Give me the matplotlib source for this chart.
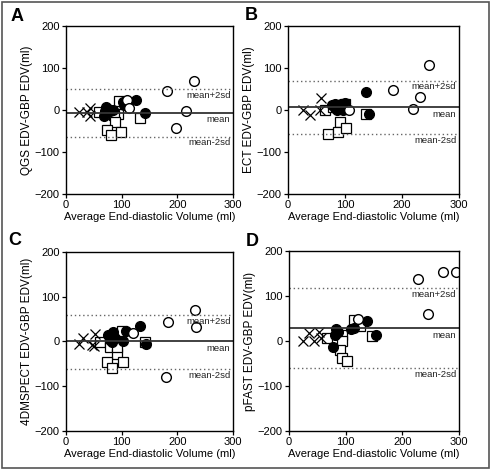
import numpy as np
import matplotlib
matplotlib.use("Agg")
import matplotlib.pyplot as plt
from matplotlib.patches import Rectangle

plt.rcParams['font.family'] = ['Liberation Sans', 'DejaVu Sans']

# ---- data: (average EDV, difference) per group ----
# panel A : QGS
a_open_x = [182, 230, 215, 197, 110, 114]
a_open_y = [45, 69, -2, -43, 25, 6]
a_fill_x = [72, 70, 76, 79, 84, 68, 102, 105, 126, 142]
a_fill_y = [8, -2, 2, -3, 0, -13, 20, 12, 25, -6]
a_sq_x = [60, 96, 93, 87, 88, 74, 81, 99, 132]
a_sq_y = [-4, 22, -8, -12, -28, -48, -60, -52, -18]
a_x_x = [23, 43, 43, 37]
a_x_y = [-5, 6, -13, -5]
a_lines = [-6, 50, -63]

# panel B : ECT
b_open_x = [184, 248, 232, 220, 108]
b_open_y = [48, 106, 31, 2, 0]
b_fill_x = [78, 82, 88, 94, 100, 82, 92, 98, 86, 96, 137, 143]
b_fill_y = [12, 14, 12, 15, 16, 4, 4, 8, 0, 0, 43, -9]
b_sq_x = [65, 91, 70, 88, 102, 137, 80, 100, 98]
b_sq_y = [0, -28, -56, -52, -44, -9, 6, 15, 5]
b_x_x = [58, 26, 38, 56]
b_x_y = [29, 0, -13, 0]
b_lines = [7, 70, -57]

# panel C : 4DMSPECT
c_open_x = [232, 233, 183, 180, 121]
c_open_y = [71, 32, 44, -79, 18]
c_fill_x = [133, 108, 103, 143, 85, 76, 79, 88, 82]
c_fill_y = [35, 24, 1, -5, 22, 14, 3, 7, -2]
c_sq_x = [61, 79, 91, 73, 82, 102, 100, 142, 91]
c_sq_y = [-2, -12, -27, -47, -60, -47, 23, -2, -12]
c_x_x = [24, 31, 53, 46, 51]
c_x_y = [-6, 7, 16, -7, -10]
c_lines = [0, 59, -62]

# panel D : pFAST
d_open_x = [228, 271, 294, 245, 122]
d_open_y = [137, 153, 154, 61, 48]
d_fill_x = [138, 153, 110, 115, 83, 82, 78, 87]
d_fill_y = [44, 13, 27, 28, 27, 13, -14, 21]
d_sq_x = [94, 94, 91, 94, 103, 115, 126, 147, 68]
d_sq_y = [13, -1, -20, -37, -44, 47, 34, 12, 6]
d_x_x = [25, 35, 45, 54, 56]
d_x_y = [-1, 17, -1, 19, 7]
d_lines = [28, 117, -61]

panels = [
    ("A", "QGS EDV-GBP EDV(ml)", [0.134, 0.587, 0.340, 0.357], (0.022, 0.982),
     (a_open_x, a_open_y), (a_fill_x, a_fill_y), (a_sq_x, a_sq_y), (a_x_x, a_x_y), a_lines),
    ("B", "ECT EDV-GBP EDV(ml)", [0.585, 0.587, 0.348, 0.358], (0.498, 0.985),
     (b_open_x, b_open_y), (b_fill_x, b_fill_y), (b_sq_x, b_sq_y), (b_x_x, b_x_y), b_lines),
    ("C", "4DMSPECT EDV-GBP EDV(ml)", [0.134, 0.083, 0.340, 0.381], (0.016, 0.507),
     (c_open_x, c_open_y), (c_fill_x, c_fill_y), (c_sq_x, c_sq_y), (c_x_x, c_x_y), c_lines),
    ("D", "pFAST EDV-GBP EDV(ml)", [0.587, 0.083, 0.346, 0.383], (0.500, 0.505),
     (d_open_x, d_open_y), (d_fill_x, d_fill_y), (d_sq_x, d_sq_y), (d_x_x, d_x_y), d_lines),
]

fig = plt.figure(figsize=(4.92, 4.70), dpi=100)
fig.patches.append(Rectangle((0.004, 0.004), 0.990, 0.992, transform=fig.transFigure,
                             fill=False, edgecolor="#555555", lw=1.2))

for letter, ylab, pos, lpos, op, fi, sq, xx, lines in panels:
    ax = fig.add_axes(pos)
    ax.plot(sq[0], sq[1], ls="none", marker="s", ms=6.5, mfc="white", mec="black", mew=0.9)
    ax.plot(xx[0], xx[1], ls="none", marker="x", ms=7, color="black", mew=0.9)
    ax.plot(fi[0], fi[1], ls="none", marker="o", ms=7, mfc="black", mec="black")
    ax.plot(op[0], op[1], ls="none", marker="o", ms=7, mfc="white", mec="black", mew=1.0)

    mean, up, lo = lines
    ax.axhline(mean, color="#333333", lw=1.3)
    ax.axhline(up, color="#666666", lw=1.0, ls=(0, (1, 2)))
    ax.axhline(lo, color="#666666", lw=1.0, ls=(0, (1, 2)))
    ax.text(295, up - 4, "mean+2sd", ha="right", va="top", fontsize=6.8, color="#222222")
    ax.text(295, mean - 6, "mean", ha="right", va="top", fontsize=6.8, color="#222222")
    ax.text(295, lo - 4, "mean-2sd", ha="right", va="top", fontsize=6.8, color="#222222")

    ax.set_xlim(0, 300)
    ax.set_ylim(-200, 200)
    ax.set_xticks([0, 100, 200, 300])
    ax.set_yticks([-200, -100, 0, 100, 200])
    ax.tick_params(labelsize=8, length=3, width=0.9, direction="out", pad=1.5)
    for s in ax.spines.values():
        s.set_linewidth(1.0)
    ax.set_xlabel("Average End-diastolic Volume (ml)", fontsize=8, labelpad=1)
    ax.set_ylabel(ylab, fontsize=8.5, labelpad=1)

    fig.text(lpos[0], lpos[1], letter, fontsize=13, fontweight="bold", ha="left", va="top")

fig.savefig("out.png", dpi=100)
